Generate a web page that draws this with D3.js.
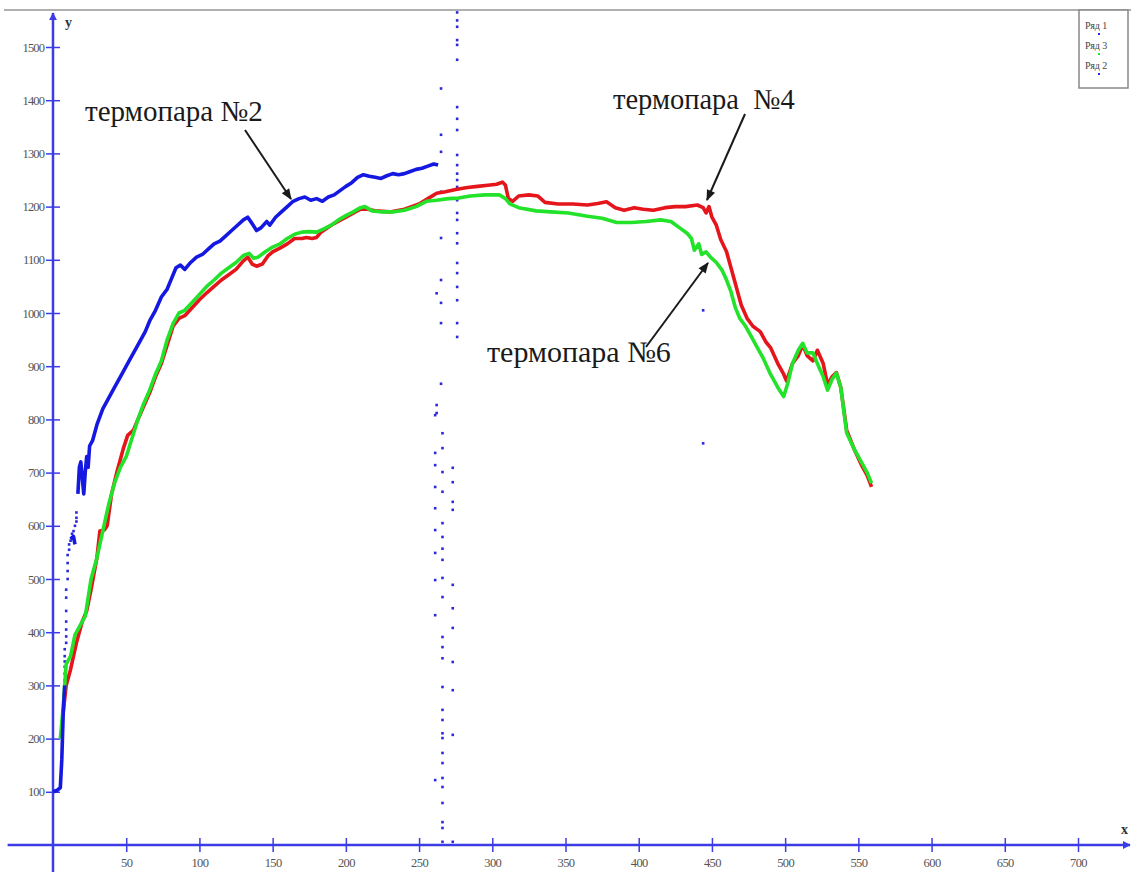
<!DOCTYPE html>
<html><head><meta charset="utf-8">
<script src="https://cdn.jsdelivr.net/npm/d3@7"></script>
<style>
html,body{margin:0;padding:0;background:#fff;}
svg{display:block;}
text{font-family:"Liberation Serif","Times New Roman",serif;}
</style></head>
<body>
<script>
// ---- data ----
const xTicks = [50,100,150,200,250,300,350,400,450,500,550,600,650,700];
const yTicks = [100,200,300,400,500,600,700,800,900,1000,1100,1200,1300,1400,1500];
const legendLabels = ["Ряд 1","Ряд 3","Ряд 2"];
const annotations = ["термопара №2","термопара  №4","термопара №6"];

// термопара №2 (blue); null = gap where the series is only dots
const blueX = [0,3,5,6,7,8,9,12,14,15,16,17,18,19,20,21,22,23,24,25,27,30,34,38,42,46,50,53,57,60,63,66,70,74,78,81,84,87,90,94,98,102,106,110,114,118,122,126,130,133,136,139,142,146,148,152,156,160,164,168,172,176,180,184,188,192,196,200,204,208,212,216,220,224,228,232,236,240,244,248,252,256,260,263];
const blueY = [100,103,108,160,250,300,null,575,580,565,null,660,710,720,690,660,700,730,710,750,760,790,820,840,860,880,900,915,935,950,965,985,1005,1030,1045,1065,1085,1090,1082,1095,1105,1110,1120,1130,1135,1145,1155,1165,1175,1180,1168,1155,1160,1172,1165,1180,1190,1200,1210,1215,1218,1212,1215,1210,1218,1222,1230,1238,1245,1255,1260,1257,1255,1253,1258,1262,1260,1262,1266,1270,1272,1276,1280,1278];

// термопара №4 (red)
const redX = [7,9,12,16,20,23,26,30,32,35,37,40,44,48,51,55,58,62,66,70,74,78,82,86,90,95,100,105,110,115,120,125,130,133,136,139,143,147,150,155,160,165,170,173,177,180,183,190,200,210,215,220,230,240,250,256,262,268,275,283,290,297,303,307,309,311,314,318,325,331,336,345,355,365,372,378,384,390,397,403,410,418,425,432,440,444,446,448,450,453,456,460,464,467,470,474,478,483,487,490,495,499,501,505,509,512,515,519,522,526,529,532,535,538,542,547,552,556,559];
const redY = [250,300,330,380,420,440,480,540,590,592,600,660,705,745,770,780,800,825,850,880,905,940,975,990,995,1010,1025,1038,1050,1062,1072,1082,1098,1105,1092,1088,1092,1108,1115,1122,1130,1140,1140,1142,1140,1142,1152,1165,1180,1195,1195,1192,1190,1195,1205,1215,1225,1228,1232,1236,1238,1240,1242,1246,1240,1215,1210,1220,1222,1220,1208,1205,1205,1203,1206,1209,1198,1193,1198,1195,1193,1198,1200,1200,1203,1198,1188,1200,1180,1165,1138,1115,1075,1045,1015,990,975,965,945,935,905,885,872,905,920,940,920,910,930,905,865,880,888,860,780,745,715,695,673];

// термопара №6 (green)
const greenX = [5,7,9,12,15,18,22,26,30,34,38,42,46,50,54,58,62,66,70,74,78,82,86,90,95,100,105,110,115,120,125,130,134,137,140,145,150,155,160,165,170,175,180,185,190,195,200,205,210,213,218,225,232,240,248,255,262,270,277,285,295,305,309,312,318,330,340,352,365,375,385,395,405,415,422,428,433,436,438,441,443,446,449,453,457,460,463,466,469,473,477,481,485,490,495,499,502,505,509,512,515,519,522,526,529,532,535,538,542,547,552,556,559];
const greenY = [200,260,340,355,395,410,430,500,540,590,640,680,710,730,765,800,830,855,885,910,950,980,1000,1005,1020,1035,1050,1062,1075,1085,1095,1108,1112,1103,1105,1115,1124,1130,1140,1148,1152,1153,1152,1158,1165,1175,1183,1190,1198,1200,1192,1190,1190,1193,1200,1210,1212,1215,1216,1220,1222,1222,1215,1205,1198,1192,1190,1188,1182,1178,1170,1170,1172,1175,1172,1160,1150,1140,1118,1130,1110,1115,1105,1095,1080,1062,1040,1010,990,975,955,935,915,885,860,843,870,905,930,943,925,925,905,880,855,875,887,860,775,745,720,700,680];

// stray blue points (series 1 scatter)
const dotX = [276,276,276,276,276,276,276,276,276,276,276,276,276,276,276,276,276,276,276,276,276,276,276,276,276,265,265,265,265,265,265,265,265,265,262,262,262,261,261,261,261,261,261,261,261,261,261,266,266,266,266,266,266,266,266,266,266,266,266,266,266,266,266,266,266,266,266,266,266,266,266,266,266,273,273,273,273,273,273,273,273,273,273,273,444,444,
  8,8,8,8,8,8,9,9,9,9,9,9,9,10,10,10,10,11,11,12,13,13,14,15,16,16,16];
const dotY = [1565,1550,1538,1513,1504,1476,1387,1365,1344,1297,1278,1262,1250,1237,1212,1188,1175,1150,1131,1094,1075,1049,1024,981,955,1422,1335,1303,1228,1141,1062,1019,981,867,1037,827,812,808,737,714,673,633,592,549,498,432,122,774,746,701,664,605,579,557,536,502,466,391,372,351,297,254,235,210,201,173,154,126,109,79,43,32,6,709,682,645,630,489,445,408,344,291,207,6,1005,755,
  310,322,335,345,355,368,380,392,405,420,440,465,480,500,515,530,545,555,565,572,578,585,590,600,608,615,625];

// ---- layout ----
const W = 1131, H = 872;
const x = d3.scaleLinear().domain([0,700]).range([53,1078]);
const y = d3.scaleLinear().domain([0,1500]).range([845,47]);
const axisColor = "#3c3ce6";
const series = [
  {xs: redX, ys: redY, color: "#e4151b"},
  {xs: greenX, ys: greenY, color: "#22e22a"},
  {xs: blueX, ys: blueY, color: "#1418e0"}
];

const svg = d3.select("body").append("svg").attr("width", W).attr("height", H);

// frame line at top
svg.append("line").attr("x1",4).attr("x2",W).attr("y1",10).attr("y2",10)
  .attr("stroke","#b0b0b0").attr("stroke-width",2);

// arrowhead markers
const defs = svg.append("defs");
defs.append("marker").attr("id","arr").attr("viewBox","0 0 10 10").attr("refX",9).attr("refY",5)
  .attr("markerWidth",8).attr("markerHeight",8).attr("orient","auto").attr("markerUnits","userSpaceOnUse")
  .append("path").attr("d","M0,0 L10,5 L0,10 Z").attr("fill",axisColor);
defs.append("marker").attr("id","arrK").attr("viewBox","0 0 10 10").attr("refX",9).attr("refY",5)
  .attr("markerWidth",13).attr("markerHeight",11).attr("orient","auto").attr("markerUnits","userSpaceOnUse")
  .append("path").attr("d","M0,1 L10,5 L0,9 Z").attr("fill","#1a1a1a");

// axes lines
svg.append("line").attr("x1",x(-31)).attr("x2",1130).attr("y1",y(0)).attr("y2",y(0))
  .attr("stroke",axisColor).attr("stroke-width",2.5).attr("marker-end","url(#arr)");
svg.append("line").attr("x1",x(0)).attr("x2",x(0)).attr("y1",H).attr("y2",13)
  .attr("stroke",axisColor).attr("stroke-width",2.5).attr("marker-end","url(#arr)");

// tick axes via d3 axis generators
const fmt = d3.format("d");
const gx = svg.append("g").attr("transform",`translate(0,${y(0)})`)
  .call(d3.axisBottom(x).tickValues(xTicks).tickFormat(fmt).tickSize(7).tickPadding(6));
gx.select(".domain").remove();
gx.selectAll(".tick line").attr("y1",-7).attr("stroke",axisColor).attr("stroke-width",1.5);
gx.selectAll(".tick text").style("font-family",'"Liberation Serif",serif').attr("font-size",12.5).attr("fill","#555")
  .attr("letter-spacing","-0.6");

const gy = svg.append("g").attr("transform",`translate(${x(0)},0)`)
  .call(d3.axisLeft(y).tickValues(yTicks).tickFormat(fmt).tickSize(7).tickPadding(2));
gy.select(".domain").remove();
gy.selectAll(".tick line").attr("x1",7).attr("stroke",axisColor).attr("stroke-width",1.5);
gy.selectAll(".tick text").style("font-family",'"Liberation Serif",serif').attr("font-size",12.5).attr("fill","#555")
  .attr("letter-spacing","-0.9");

svg.append("text").attr("x",x(0)+12).attr("y",27).text("y")
  .attr("font-weight","bold").attr("font-size",14).attr("fill","#333");
svg.append("text").attr("x",1121).attr("y",834).text("x")
  .attr("font-weight","bold").attr("font-size",14).attr("fill","#333");

// scatter dots
svg.append("g").selectAll("rect").data(dotX.map((d,i)=>[d,dotY[i]])).join("rect")
  .attr("x",d=>x(d[0])-1.3).attr("y",d=>y(d[1])-1.3).attr("width",2.6).attr("height",2.6)
  .attr("fill","#2a2ad8");

// series lines
const line = d3.line().defined(d=>d[1]!=null).x(d=>x(d[0])).y(d=>y(d[1]));
series.forEach(s=>{
  const pts = s.xs.map((d,i)=>[d,s.ys[i]]);
  svg.append("path").datum(pts).attr("d",line).attr("fill","none")
    .attr("stroke",s.color).attr("stroke-width",3.6).attr("stroke-linejoin","round");
});

// annotations
function txt(t,px,py,fs){svg.append("text").attr("x",px).attr("y",py).text(t)
  .attr("font-size",fs).attr("fill","#1a1a1a").attr("xml:space","preserve").style("white-space","pre");}
txt(annotations[0],85,121,29);
txt(annotations[1],613,109,28.5);
txt(annotations[2],487,362,30);
function arrow(x1,y1,x2,y2){svg.append("line").attr("x1",x1).attr("y1",y1).attr("x2",x2).attr("y2",y2)
  .attr("stroke","#1a1a1a").attr("stroke-width",2).attr("marker-end","url(#arrK)");}
arrow(245,130,291,199);
arrow(745,114,707,200);
arrow(646,347,708,263);

// legend
const lg = svg.append("g");
lg.append("rect").attr("x",1079).attr("y",10).attr("width",49).attr("height",78)
  .attr("fill","#fff").attr("stroke","#888").attr("stroke-width",1.5);
const legColors = ["#2a2ad8","#22e22a","#2a2ad8"];
legendLabels.forEach((t,i)=>{
  lg.append("text").attr("x",1085).attr("y",29+i*20).text(t)
    .attr("font-size",10).attr("fill","#444");
  lg.append("rect").attr("x",1098).attr("y",33+i*20).attr("width",2).attr("height",2).attr("fill",legColors[i]);
});
</script>
</body></html>
